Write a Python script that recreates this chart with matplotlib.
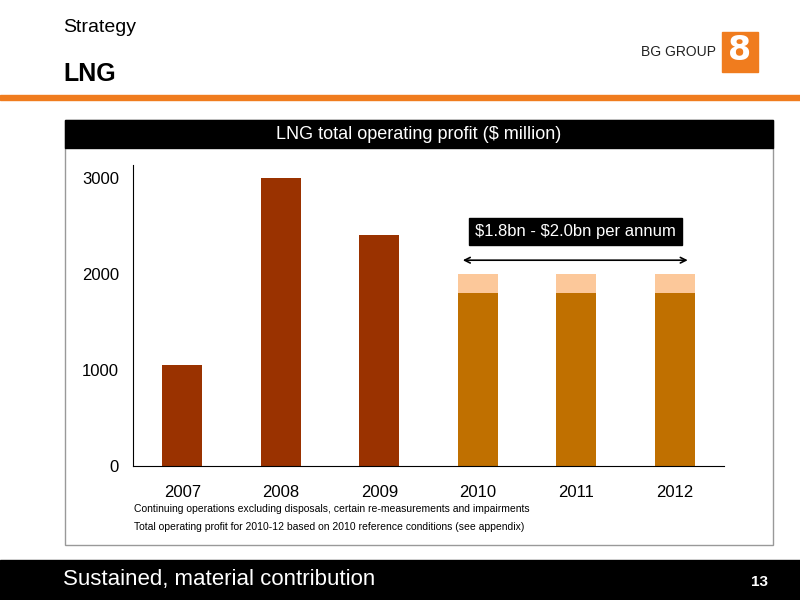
import matplotlib
matplotlib.use("Agg")
import matplotlib.pyplot as plt
from matplotlib.patches import Rectangle

years = ["2007", "2008", "2009", "2010", "2011", "2012"]
base = [1050, 3000, 2400, 1800, 1800, 1800]
upper = [0, 0, 0, 200, 200, 200]
yticks = [0, 1000, 2000, 3000]

W, H = 800, 600
fig = plt.figure(figsize=(8, 6), dpi=100)
def fx(x): return x / W
def fy(y): return 1 - y / H

# header
fig.text(fx(63), fy(28), "Strategy", fontsize=14, va="center", family="Liberation Sans")
fig.text(fx(63), fy(74), "LNG", fontsize=18, weight="bold", va="center", family="Liberation Sans")
fig.text(fx(641), fy(52), "BG GROUP", fontsize=10, va="center", family="Liberation Sans", color="#222")
fig.patches.append(Rectangle((fx(722), fy(72)), fx(36), 40 / H, transform=fig.transFigure, color="#f07c1e"))
fig.text(fx(740), fy(50), "8", fontsize=24, weight="bold", color="white", ha="center", va="center")
fig.patches.append(Rectangle((0, fy(100)), 1, 5 / H, transform=fig.transFigure, color="#f07c1e"))

# chart frame
fig.patches.append(Rectangle((fx(65), fy(545)), fx(708), 425 / H, transform=fig.transFigure,
                             facecolor="white", edgecolor="#999", lw=1))
fig.patches.append(Rectangle((fx(65), fy(148)), fx(708), 28 / H, transform=fig.transFigure, color="black"))
fig.text(fx(419), fy(134), "LNG total operating profit ($ million)", color="white", fontsize=13,
         ha="center", va="center", family="Liberation Sans")

ax = fig.add_axes([fx(133), fy(466), fx(591), (466 - 165) / H])
ax.set_zorder(5)
ax.patch.set_alpha(0)
x = range(len(years))
ax.bar(x, base, width=0.41, color=["#9a3200"] * 3 + ["#c07000"] * 3)
ax.bar(x, upper, bottom=base, width=0.41, color="#fcc89a")
ax.set_xlim(-0.5, 5.5)
ax.set_ylim(0, 3130)
ax.set_yticks(yticks)
ax.set_xticks(list(x))
ax.set_xticklabels(years)
for s in ["top", "right"]:
    ax.spines[s].set_visible(False)
ax.tick_params(axis="x", length=0, labelsize=12, pad=14)
ax.tick_params(axis="y", length=0, labelsize=12, pad=10)
for l in ax.get_xticklabels() + ax.get_yticklabels():
    l.set_family("Liberation Sans")

ax.annotate("", xy=(2.82, 2140), xytext=(5.16, 2140),
            arrowprops=dict(arrowstyle="<->", color="black", lw=1.2))
ax.text(3.99, 2440, r"\$1.8bn - \$2.0bn per annum", ha="center", va="center", color="white",
        fontsize=12, family="Liberation Sans",
        bbox=dict(facecolor="black", edgecolor="black", boxstyle="square,pad=0.35"))

fig.text(fx(134), fy(509), "Continuing operations excluding disposals, certain re-measurements and impairments",
         fontsize=7.5, va="center", family="Liberation Sans")
fig.text(fx(134), fy(527), "Total operating profit for 2010-12 based on 2010 reference conditions (see appendix)",
         fontsize=7.5, va="center", family="Liberation Sans")

fig.patches.append(Rectangle((0, 0), 1, 40 / H, transform=fig.transFigure, color="black"))
fig.text(fx(63), fy(580), "Sustained, material contribution", color="white", fontsize=16,
         va="center", family="Liberation Sans")
fig.text(fx(768), fy(582), "13", color="white", fontsize=11, weight="bold", ha="right",
         va="center", family="Liberation Sans")

fig.savefig("out.png", dpi=100)
